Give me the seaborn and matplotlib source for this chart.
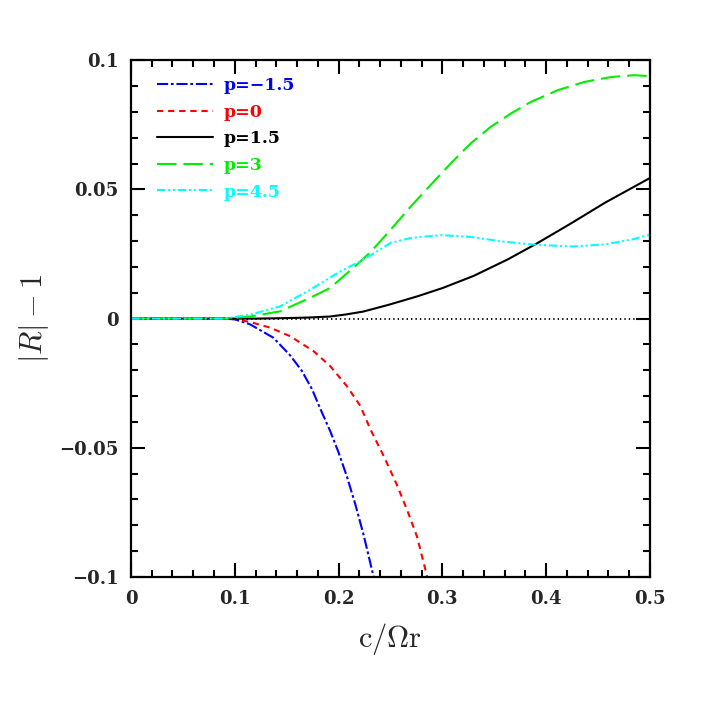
import numpy as np
import pandas as pd
import matplotlib
matplotlib.use("Agg")
import matplotlib.pyplot as plt
import seaborn as sns
from matplotlib.ticker import MultipleLocator

# ---- data ----
labels = ["p=\u22121.5", "p=0", "p=1.5", "p=3", "p=4.5"]
colors = ["#0000ff", "#ff0000", "#000000", "#00ee00", "#00ffff"]

x_m15 = [0.0, 0.05, 0.09, 0.10, 0.1146, 0.1372, 0.1533, 0.1646, 0.1743, 0.1823,
         0.192, 0.200, 0.2081, 0.2161, 0.2242, 0.2338]
y_m15 = [0.0, 0.0, 0.0, -0.0003, -0.0022, -0.0074, -0.0142, -0.0202, -0.0272, -0.0348,
         -0.0436, -0.0518, -0.0612, -0.0718, -0.0838, -0.1]

x_0 = [0.0, 0.05, 0.09, 0.10, 0.1147, 0.134, 0.1533, 0.1759, 0.192, 0.2081, 0.221,
       0.2306, 0.2435, 0.2564, 0.2661, 0.2757, 0.2838, 0.2854]
y_0 = [0.0, 0.0, 0.0, -0.0002, -0.0013, -0.0035, -0.0068, -0.0126, -0.0184, -0.0262, -0.0338,
       -0.0428, -0.0532, -0.0645, -0.0741, -0.0845, -0.0974, -0.1]

x_15 = [0.0, 0.12, 0.15, 0.17, 0.1917, 0.207, 0.2235, 0.2479, 0.275, 0.30, 0.33,
        0.363, 0.392, 0.4242, 0.4565, 0.5]
y_15 = [0.0, 0.0, 0.0002, 0.0004, 0.0008, 0.0016, 0.0027, 0.0053, 0.0085, 0.0118, 0.0165,
        0.0229, 0.0293, 0.0369, 0.0448, 0.0544]

x_3 = [0.0, 0.09, 0.1146, 0.1435, 0.1724, 0.1917, 0.2174, 0.2309, 0.2502, 0.2696, 0.2889,
       0.3082, 0.3276, 0.3469, 0.3662, 0.3856, 0.4113, 0.437, 0.4628, 0.4853, 0.5]
y_3 = [0.0, 0.0, 0.0008, 0.0028, 0.008, 0.0118, 0.0208, 0.0258, 0.0344, 0.0434, 0.0518,
       0.0601, 0.0679, 0.0743, 0.0794, 0.0839, 0.0884, 0.0916, 0.0935, 0.0942, 0.0938]

x_45 = [0.0, 0.09, 0.1146, 0.1435, 0.1724, 0.2013, 0.2174, 0.2309, 0.2502, 0.2696, 0.2986,
        0.3276, 0.3566, 0.3856, 0.4242, 0.4565, 0.4826, 0.5]
y_45 = [0.0, 0.0, 0.0015, 0.0047, 0.0111, 0.0182, 0.0215, 0.0245, 0.0293, 0.0312, 0.0323,
        0.0316, 0.0299, 0.0287, 0.0279, 0.0287, 0.0306, 0.0325]

series_x = [x_m15, x_0, x_15, x_3, x_45]
series_y = [y_m15, y_0, y_15, y_3, y_45]
styles = [(0, (8, 2, 2, 2)), (0, (4.5, 3.5)), "-", (0, (14, 5)), (0, (6, 2, 1.5, 2, 1.5, 2))]

zero_x = [0.0, 0.5]
zero_y = [0.0, 0.0]

# ---- plotting ----
sns.set_theme(style="white")
plt.rcParams["lines.scale_dashes"] = False
plt.rcParams["mathtext.fontset"] = "cm"
plt.rcParams["font.family"] = ["DejaVu Serif", "DejaVu Sans"]

fig = plt.figure(figsize=(7.08, 7.08), dpi=100)
ax = fig.add_axes([0.185, 0.185, 0.733, 0.730])

sns.lineplot(x=zero_x, y=zero_y, ax=ax, color="black", lw=1.3,
             linestyle=(0, (1, 2.2)), estimator=None)

for xs, ys, lab, col, ls in zip(series_x, series_y, labels, colors, styles):
    df = pd.DataFrame({"x": xs, "y": ys})
    sns.lineplot(data=df, x="x", y="y", ax=ax, color=col, lw=1.5,
                 linestyle=ls, label=lab, sort=False, estimator=None)

ax.set_xlim(0, 0.5)
ax.set_ylim(-0.1, 0.1)
ax.xaxis.set_major_locator(MultipleLocator(0.1))
ax.xaxis.set_minor_locator(MultipleLocator(0.02))
ax.yaxis.set_major_locator(MultipleLocator(0.05))
ax.yaxis.set_minor_locator(MultipleLocator(0.01))
ax.set_xticks([0, 0.1, 0.2, 0.3, 0.4, 0.5])
ax.set_xticklabels(["0", "0.1", "0.2", "0.3", "0.4", "0.5"])
ax.set_yticks([-0.1, -0.05, 0, 0.05, 0.1])
ax.set_yticklabels(["\u22120.1", "\u22120.05", "0", "0.05", "0.1"])
ax.tick_params(which="both", direction="in", top=True, right=True,
               bottom=True, left=True, color="black", width=1.5)
ax.tick_params(which="major", length=10, labelsize=13, pad=9)
ax.tick_params(which="minor", length=5)
for lbl in ax.get_xticklabels() + ax.get_yticklabels():
    lbl.set_fontweight("bold")
for sp in ax.spines.values():
    sp.set_linewidth(1.6)
    sp.set_color("black")

ax.set_xlabel(r"$\mathrm{c}/\Omega\mathrm{r}$", fontsize=22, labelpad=10)
ax.set_ylabel(r"$|R|-1$", fontsize=22, labelpad=6)

leg = ax.legend(loc="upper left", bbox_to_anchor=(0.02, 0.997), frameon=False,
                handlelength=3.2, handletextpad=0.65, labelspacing=0.55,
                labelcolor="linecolor",
                prop={"family": "DejaVu Serif", "weight": "bold", "size": 12.5})

fig.savefig("out.png", dpi=100)
